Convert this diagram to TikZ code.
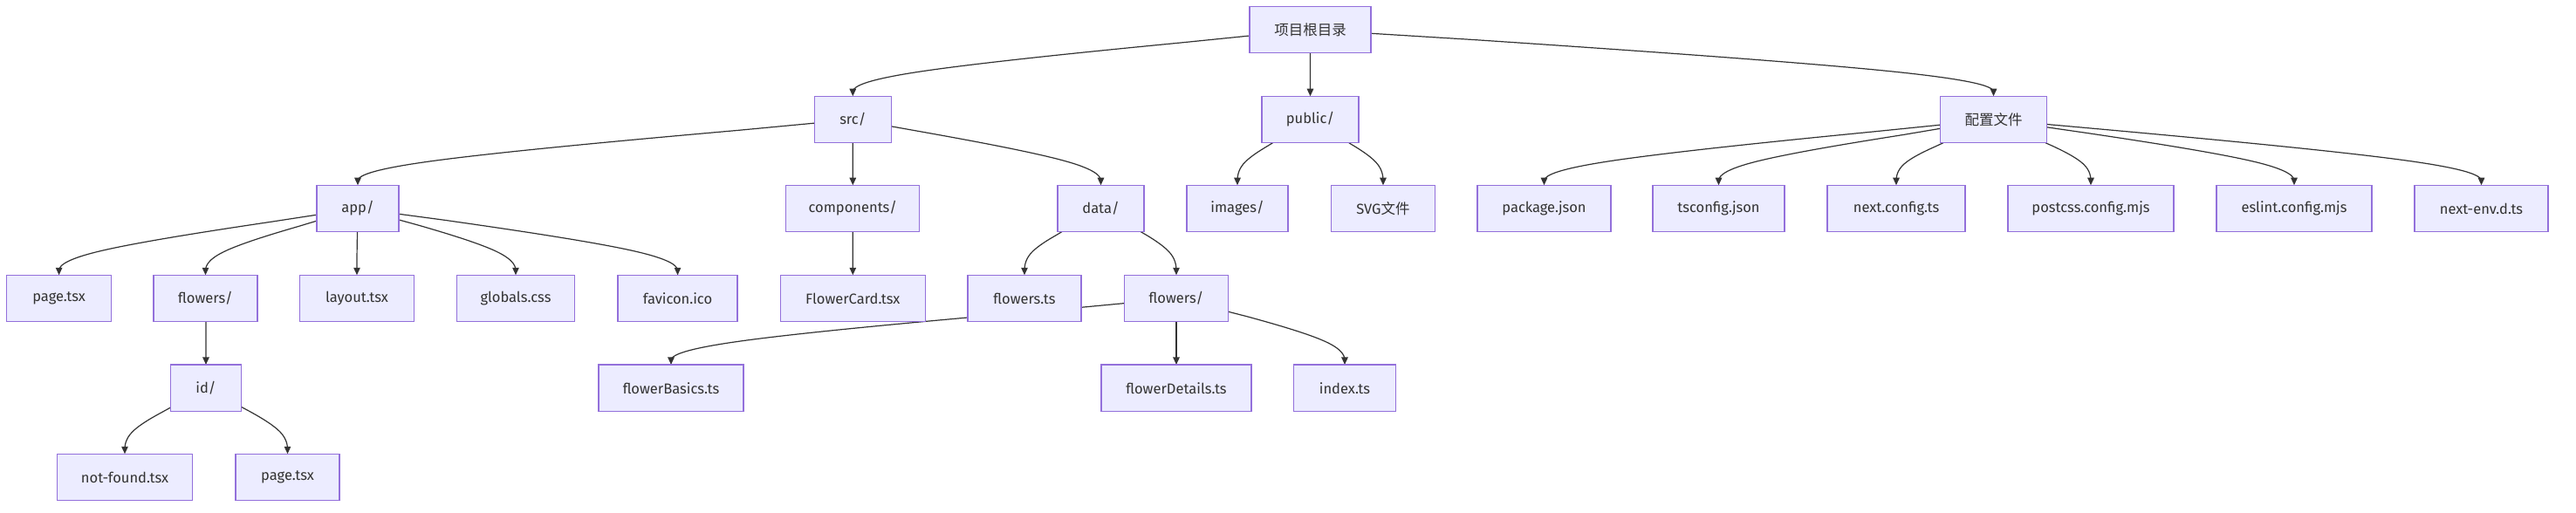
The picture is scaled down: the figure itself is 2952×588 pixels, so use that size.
\documentclass[tikz,border=0pt]{standalone}
\usepackage{fontspec}
\setmainfont{Fira Sans}
\newfontfamily\cjk{Noto Sans CJK SC}
\usetikzlibrary{calc,arrows.meta}
\definecolor{boxfill}{HTML}{ECECFF}
\definecolor{boxline}{HTML}{9370DB}
\definecolor{ink}{HTML}{333333}
\pgfdeclarelayer{back}
\pgfdeclarelayer{edges}
\pgfsetlayers{back,edges,main}
\tikzset{
  x=1pt, y=-1pt,
  fbox/.style={draw=boxline, fill=boxfill, line width=1.1pt, rectangle,
    minimum height=53.5pt, inner sep=0pt, outer sep=0pt,
    text=ink, font=\fontsize{16.5}{19}\selectfont},
  edge/.style={draw=ink, line width=1.2pt, -{Triangle[length=8.5pt,width=7.5pt]}},
}
% tree edge: #1 parent, #2 child, #3 y of middle point
\newcommand\tedge[3]{%
  \coordinate (P1) at (#2.north |- 0,#3);
  \path let \p1=($(P1)-(#1.center)$), \n1={atan2(\y1,\x1)} in coordinate (P0) at (#1.\n1);
  \coordinate (P2) at (#2.north);
  \begin{pgfonlayer}{edges}
  \draw[edge] (#1) -- ($(P0)!1/6!(P1)$)
    .. controls ($(P0)!1/3!(P1)$) and ($(P0)!2/3!(P1)$) ..
    ($(P1)!1/3!($(P0)!0.5!(P2)$)$)
    .. controls ($(P1)!1/3!(P2)$) and ($(P1)!2/3!(P2)$) ..
    ($(P1)!5/6!(P2)$) -- (#2);
  \end{pgfonlayer}
}
\begin{document}
\begin{tikzpicture}
\begin{pgfonlayer}{back}
\path[fill=white, use as bounding box] (0,0) rectangle (2952,588);
\end{pgfonlayer}
% row 0
\node[fbox, minimum width=139pt] (root) at (1501.5,34) {{\cjk 项目根目录}};
% row 1
\node[fbox, minimum width=88pt] (src) at (977.3,137) {src/};
\node[fbox, minimum width=111pt] (public) at (1501.5,137) {public/};
\node[fbox, minimum width=122pt] (cfg) at (2284.5,137) {{\cjk 配置文件}};
% row 2
\node[fbox, minimum width=94pt] (app) at (410,239) {app/};
\node[fbox, minimum width=153pt] (comp) at (977.3,239) {components/};
\node[fbox, minimum width=99pt] (data) at (1261.5,239) {data/};
\node[fbox, minimum width=116pt] (images) at (1418,239) {images/};
\node[fbox, minimum width=118.5pt] (svg) at (1585,239) {SVG{\cjk 文件}};
\node[fbox, minimum width=153pt] (pkg) at (1769.5,239) {package.json};
\node[fbox, minimum width=151pt] (tsc) at (1969.5,239) {tsconfig.json};
\node[fbox, minimum width=158pt] (nextcfg) at (2173,239) {next.config.ts};
\node[fbox, minimum width=190pt] (postcss) at (2396,239) {postcss.config.mjs};
\node[fbox, minimum width=178pt] (eslint) at (2629,239) {eslint.config.mjs};
\node[fbox, minimum width=153pt] (nextenv) at (2843.5,239) {next-env.d.ts};
% row 3
\node[fbox, minimum width=120pt] (pageA) at (67.6,342) {page.tsx};
\node[fbox, minimum width=119pt] (flowersA) at (235.5,342) {flowers/};
\node[fbox, minimum width=130.5pt] (layout) at (409,342) {layout.tsx};
\node[fbox, minimum width=134.5pt] (globals) at (591,342) {globals.css};
\node[fbox, minimum width=137pt] (favicon) at (776.5,342) {favicon.ico};
\node[fbox, minimum width=166pt] (fcard) at (977.3,342) {FlowerCard.tsx};
\node[fbox, minimum width=130pt] (flowersts) at (1174,342) {flowers.ts};
\node[fbox, minimum width=118.5pt] (flowersB) at (1348,342) {flowers/};
% row 4
\node[fbox, minimum width=81.3pt] (id) at (236,444.7) {id/};
\node[fbox, minimum width=166pt] (fbasics) at (769,444.7) {flowerBasics.ts};
\node[fbox, minimum width=172pt] (fdetails) at (1348,444.7) {flowerDetails.ts};
\node[fbox, minimum width=116.5pt] (index) at (1541,444.7) {index.ts};
% row 5
\node[fbox, minimum width=155.7pt] (notfound) at (143,547) {not-found.tsx};
\node[fbox, minimum width=119pt] (pageB) at (329.5,547) {page.tsx};
% edges
\tedge{root}{src}{85.5}
\tedge{root}{public}{85.5}
\tedge{root}{cfg}{85.5}
\tedge{src}{app}{188}
\tedge{src}{comp}{188}
\tedge{src}{data}{188}
\tedge{public}{images}{188}
\tedge{public}{svg}{188}
\tedge{cfg}{pkg}{188}
\tedge{cfg}{tsc}{188}
\tedge{cfg}{nextcfg}{188}
\tedge{cfg}{postcss}{188}
\tedge{cfg}{eslint}{188}
\tedge{cfg}{nextenv}{188}
\tedge{app}{pageA}{290.5}
\tedge{app}{flowersA}{290.5}
\tedge{app}{layout}{290.5}
\tedge{app}{globals}{290.5}
\tedge{app}{favicon}{290.5}
\tedge{comp}{fcard}{290.5}
\tedge{data}{flowersts}{290.5}
\tedge{data}{flowersB}{290.5}
\tedge{flowersA}{id}{393.5}
\tedge{flowersB}{fbasics}{393.5}
\tedge{flowersB}{fdetails}{393.5}
\tedge{flowersB}{index}{393.5}
\tedge{id}{notfound}{495.5}
\tedge{id}{pageB}{495.5}
\end{tikzpicture}
\end{document}
